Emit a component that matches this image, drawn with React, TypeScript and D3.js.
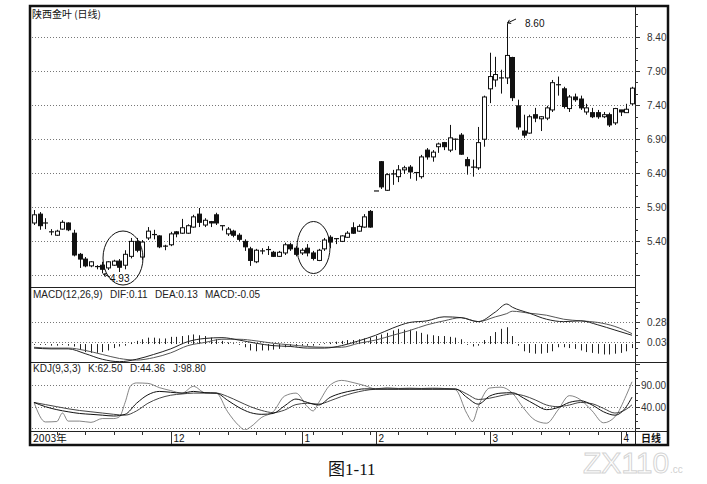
import * as d3 from "d3";

// daily candles, 陕西金叶, Nov 2003 - Apr 2004
const opens = [5.67,5.80,5.67,5.54,5.49,5.58,5.67,5.52,5.21,5.14, 5.04,5.03,5.05,5.01,5.05,5.11,5.05,5.18,5.40,5.17,
  5.45,5.50,5.48,5.33,5.35,5.54,5.52,5.52,5.61,5.80, 5.64,5.69,5.79,5.63,5.51,5.55,5.49,5.40,5.29,5.10,
  5.26,5.27,5.24,5.18,5.23,5.35,5.30,5.23,5.30,5.23, 5.12,5.29,5.46,5.44,5.40,5.46,5.60,5.55,5.61,5.84,
  6.14,6.57,6.15,6.39,6.35,6.45,6.49,6.41,6.35,6.74, 6.64,6.79,6.85,6.74,6.90,6.96,6.60,6.49,6.48,6.90,
  7.64,7.77,7.80,7.80,8.10,7.39,7.02,6.99,7.26,7.20, 7.21,7.33,7.70,7.64,7.35,7.52,7.49,7.30,7.29,7.29,
  7.23,7.26,7.14,7.33,7.29,7.42];
const closes = [5.79,5.63,5.66,5.53,5.55,5.68,5.57,5.20,5.14,5.04, 5.10,5.02,4.99,5.10,5.11,5.02,5.21,5.40,5.27,5.39,
  5.55,5.49,5.32,5.32,5.51,5.51,5.60,5.63,5.76,5.68, 5.71,5.67,5.67,5.62,5.58,5.49,5.43,5.32,5.12,5.27,
  5.25,5.28,5.18,5.24,5.35,5.29,5.21,5.27,5.23,5.15, 5.27,5.42,5.39,5.43,5.48,5.52,5.52,5.62,5.76,5.61,
  6.14,6.20,6.38,6.38,6.45,6.48,6.42,6.40,6.64,6.64, 6.71,6.83,6.79,6.92,6.90,6.68,6.51,6.49,6.85,7.52,
  7.82,7.85,7.80,8.13,7.51,7.08,6.96,7.23,7.21,7.23, 7.36,7.73,7.70,7.38,7.52,7.48,7.36,7.36,7.23,7.23,
  7.26,7.11,7.35,7.30,7.34,7.65];
const highs = [5.86,5.83,5.74,5.58,5.57,5.71,5.68,5.57,5.23,5.17, 5.11,5.05,5.10,5.11,5.13,5.14,5.27,5.45,5.45,5.42,
  5.61,5.57,5.49,5.35,5.54,5.55,5.73,5.65,5.79,5.89, 5.74,5.70,5.82,5.63,5.61,5.57,5.52,5.43,5.32,5.29,
  5.30,5.33,5.26,5.26,5.38,5.38,5.33,5.30,5.36,5.26, 5.29,5.45,5.49,5.44,5.49,5.55,5.68,5.65,5.80,5.86,
  6.14,6.58,6.40,6.45,6.52,6.51,6.52,6.42,6.67,6.77, 6.74,6.85,6.86,7.11,6.91,6.99,6.64,6.60,7.08,7.54,
  8.17,8.11,7.92,8.60,8.11,7.48,7.26,7.26,7.36,7.24, 7.39,7.77,7.82,7.67,7.55,7.57,7.54,7.42,7.36,7.33,
  7.30,7.29,7.36,7.33,7.42,7.67];
const lows = [5.64,5.57,5.58,5.49,5.48,5.57,5.55,5.18,5.01,5.02, 5.02,4.99,4.93,4.98,5.04,4.95,4.99,5.15,5.24,5.13,
  5.42,5.43,5.30,5.27,5.33,5.46,5.51,5.51,5.60,5.61, 5.61,5.61,5.64,5.56,5.48,5.46,5.40,5.26,5.04,5.08,
  5.21,5.20,5.17,5.17,5.20,5.26,5.18,5.20,5.18,5.12, 5.11,5.26,5.30,5.36,5.39,5.45,5.51,5.54,5.60,5.60,
  6.14,6.17,6.14,6.23,6.27,6.39,6.32,6.29,6.32,6.60, 6.57,6.70,6.74,6.71,6.74,6.67,6.38,6.35,6.45,6.79,
  7.43,7.67,7.57,7.71,7.46,7.04,6.92,6.98,7.15,7.02, 7.18,7.30,7.54,7.35,7.30,7.45,7.33,7.26,7.21,7.20,
  7.21,7.08,7.11,7.24,7.29,7.40];

// MACD histogram, one bar per day
const macdHist = [-0.01,-0.01,-0.01,-0.02,-0.02,-0.01,-0.02, -0.03,-0.07,-0.10,-0.11,-0.11,-0.10,-0.08,
  -0.05,-0.03,-0.02, 0.02,0.04, 0.06,0.08,0.08,0.07,0.07,0.09,0.09,0.10,0.11,0.12,0.11,0.10,0.08,
  0.06,0.04,0.02,0.01,-0.01, -0.04,-0.08,-0.09,-0.08,-0.08,-0.07,-0.06, -0.04,-0.03,-0.03,-0.02,-0.02,-0.02,-0.01,
  0.01,0.02,0.03,0.04,0.05,0.05,0.06, 0.07,0.08, 0.10, 0.12,0.14,0.17,0.19,0.18, 0.18,0.16,0.14,
  0.12,0.11,0.10,0.10,0.09,0.08, 0.06, -0.01,-0.03,-0.02, 0.05,0.10,0.15,0.19,0.21,0.10, -0.02,
  -0.09,-0.11,-0.12,-0.12,-0.11,-0.09, -0.04,-0.04,-0.05,-0.06,
  -0.08,-0.10,-0.11,-0.12,-0.13,-0.13,-0.12,-0.11,-0.09, -0.05];

// DIF / DEA read at these day indices
const macdIdx = [0,3,6,9,12,15,18,21,24,27,30,33,36,39,42,45,48,51,54,57,60,63,66,69,72,75,78,81,83,84,87,90,93,96,99,102,105];
const difVals = [-0.05,-0.06,-0.06,-0.12,-0.19,-0.22,-0.19,-0.13,-0.06,0.03,0.07,0.08,0.05,0.01,-0.02,-0.03,-0.05,-0.05,-0.02,0.04,
  0.11,0.20,0.27,0.29,0.34,0.33,0.28,0.40,0.50,0.46,0.385,0.31,0.28,0.29,0.24,0.175,0.11];
const deaVals = [-0.04,-0.05,-0.05,-0.08,-0.13,-0.18,-0.20,-0.17,-0.11,-0.02,0.02,0.06,0.06,0.04,0.01,-0.01,-0.03,-0.04,-0.04,0.01,
  0.05,0.11,0.17,0.24,0.29,0.33,0.28,0.34,0.38,0.41,0.385,0.36,0.31,0.29,0.27,0.22,0.13];

// KDJ
const kdIdx = [0,2,4,6,8,10,12,14,16,18,20,22,24,26,28,30,32,34,36,38,40,42,44,46,48,50,52,54,56,
  58,60,62,64,66,68,70,72,74,76,78,80,82,84,86,88,90,92,94,96,98,100,102,104,105];
const kVals = [50,40,33,28,24,22,20,18,22,48,68,76,74,72,76,73,72,55,38,26,22,24,42,58,50,44,62,72,78,
  82,82,82,82,82,82,82,82,82,62,46,65,72,73,60,45,33,38,50,54,44,28,20,40,62.5];
const dVals = [50,45,40,35,31,28,25,22,20,30,48,60,67,70,72,72,72,64,52,40,31,26,32,45,48,46,54,64,72,
  78,81,81,81,81,81,81,81,81,70,57,60,66,70,66,56,44,40,44,50,47,36,25,34,44.36];
const jIdx = [0,2,4,5,6,8,10,12,14,15,16,17,18,20,22,24,26,28,30,32,34,36,37,38,40,42,44,46,48,49,50,52,54,56,
  58,60,62,64,66,68,70,72,74,76,77,78,80,82,84,86,88,90,92,94,96,98,100,102,104,105];
const jVals = [50,4,5,25,6,6,3,12,12,16,50,90,96,95,85,78,72,88,73,72,28,-5,-15,-8,15,28,65,72,40,30,50,91,102,97,
  90,82,85,83,84,83,84,83,80,24,5,40,84,86,72,36,8,1,32,66,56,30,2,16,67,98.8];

const monthIdx = [24, 47, 60, 80, 103];
const monthLabels = ["12", "1", "2", "3", "4"];
const priceTicks = [8.4, 7.9, 7.4, 6.9, 6.4, 5.9, 5.4, 4.9];
const priceLabels = ["8.40", "7.90", "7.40", "6.90", "6.40", "5.90", "5.40"];
const macdTicks = [0.28, 0.03, -0.22];
const macdLabels = ["0.28", "0.03"];
const kdjTicks = [90, 40, -10];
const kdjLabels = ["90.00", "40.00"];

const SANS = "'Liberation Sans', Arial, 'Noto Sans CJK SC', sans-serif";
const CJK = "'Noto Sans CJK SC', 'Liberation Sans', sans-serif";

export default function App() {
  const L = 30, R = 668, T = 6, B = 445, AX = 635;
  const x = d3.scaleLinear().domain([0, 105]).range([34, 632]);
  const yP = d3.scaleLinear().domain([4.73, 8.856]).range([287, 6]);
  const yM = d3.scaleLinear().domain([-0.224, 0.7]).range([362, 288]);
  const yK = d3.scaleLinear().domain([-15, 145.4]).range([430, 362]);
  const cx = (i: number) => Math.round(x(i)) + 0.5;
  const px = (v: number) => Math.round(v) + 0.5;

  const seriesLine = (idx: number[], vals: number[], y: d3.ScaleLinear<number, number>) =>
    d3.line<number>()
      .x((_, k) => x(idx[k]))
      .y(v => y(v))
      .curve(d3.curveMonotoneX)(vals) ?? "";

  const dotted = { stroke: "#777", strokeWidth: 1, strokeDasharray: "1,2" };

  // right axis minor ticks (thirds between gridlines)
  const minor = (ticks: number[], step: number, lo: number, hi: number) =>
    d3.range(lo, hi + 1e-9, step / 3);

  return (
    <svg width={707} height={484} viewBox="0 0 707 484"
      style={{ position: "absolute", left: 0, top: 0, background: "#fff" }}>
      <defs>
        <clipPath id="kdjClip"><rect x={L} y={363} width={AX - L} height={67} /></clipPath>
        <clipPath id="macdClip"><rect x={L} y={288} width={AX - L} height={74} /></clipPath>
      </defs>

      {/* gridlines */}
      {priceTicks.map(t => (
        <line key={"pg" + t} x1={L + 2} x2={AX} y1={px(yP(t))} y2={px(yP(t))} {...dotted} />
      ))}
      {macdTicks.map(t => (
        <line key={"mg" + t} x1={L + 2} x2={AX} y1={px(yM(t))} y2={px(yM(t))} {...dotted} />
      ))}
      {kdjTicks.map(t => (
        <line key={"kg" + t} x1={L + 2} x2={AX} y1={px(yK(t))} y2={px(yK(t))} {...dotted} />
      ))}

      {/* candles */}
      {opens.map((o, i) => {
        const c = closes[i];
        const up = c >= o;
        const yo = yP(o), yc = yP(c);
        const top = Math.min(yo, yc);
        const h = Math.abs(yo - yc);
        const X = cx(i);
        return (
          <g key={"c" + i}>
            <line x1={X} x2={X} y1={yP(highs[i])} y2={yP(lows[i])} stroke="#111" strokeWidth={1} />
            {h < 1.2 ? (
              <line x1={X - 2.5} x2={X + 2.5} y1={top} y2={top} stroke="#111" strokeWidth={1.2} />
            ) : (
              <rect x={X - 2} y={top} width={4} height={h}
                fill={up ? "#fff" : "#111"} stroke="#111" strokeWidth={1} />
            )}
          </g>
        );
      })}

      {/* annotations */}
      <ellipse cx={123} cy={258} rx={20} ry={27} fill="none" stroke="#111" strokeWidth={1} />
      <ellipse cx={313.5} cy={247.5} rx={16.5} ry={26} fill="none" stroke="#111" strokeWidth={1} />
      <path d="M110,277 L103.5,274 M103.5,274 L107,273.5 M103.5,274 L105.5,277" fill="none" stroke="#111" strokeWidth={1} />
      <text x={110} y={282} fontSize={10} fontFamily={SANS} fill="#111">4.93</text>
      <path d="M516,19 L507.5,23 M507.5,23 L509.5,19.8 M507.5,23 L511.2,23.4" fill="none" stroke="#111" strokeWidth={1} />
      <text x={525} y={27} fontSize={10} fontFamily={SANS} fill="#111">8.60</text>

      {/* MACD */}
      <g clipPath="url(#macdClip)">
        {macdHist.map((v, i) => (
          <line key={"h" + i} x1={cx(i)} x2={cx(i)} y1={yM(0)} y2={yM(v)} stroke="#222" strokeWidth={1} />
        ))}
        <path d={seriesLine(macdIdx, deaVals, yM)} fill="none" stroke="#555" strokeWidth={1} />
        <path d={seriesLine(macdIdx, difVals, yM)} fill="none" stroke="#222" strokeWidth={1} />
      </g>

      {/* KDJ */}
      <g clipPath="url(#kdjClip)">
        <path d={seriesLine(jIdx, jVals, yK)} fill="none" stroke="#666" strokeWidth={0.8} />
        <path d={seriesLine(kdIdx, dVals, yK)} fill="none" stroke="#444" strokeWidth={1} />
        <path d={seriesLine(kdIdx, kVals, yK)} fill="none" stroke="#111" strokeWidth={1} />
      </g>

      {/* panel separators */}
      <line x1={L} x2={AX} y1={287.5} y2={287.5} stroke="#222" strokeWidth={1} />
      <line x1={L} x2={R} y1={362.5} y2={362.5} stroke="#222" strokeWidth={1} />
      <line x1={L} x2={R} y1={431.5} y2={431.5} stroke="#222" strokeWidth={1.2} />
      <line x1={AX + 0.5} x2={AX + 0.5} y1={T} y2={B} stroke="#222" strokeWidth={1} />

      {/* right axis ticks and labels */}
      {minor(priceTicks, 0.5, 4.9, 8.84).map((t, k) => (
        <line key={"pt" + k} x1={AX} x2={AX + (k % 3 === 0 ? 5 : 3)} y1={px(yP(t))} y2={px(yP(t))} stroke="#333" />
      ))}
      {priceLabels.map((s, k) => (
        <text key={"pl" + s} x={647} y={yP(priceTicks[k]) + 4} fontSize={10} fontFamily={SANS} fill="#333">{s}</text>
      ))}
      {minor(macdTicks, 0.25, -0.22, 0.69).map((t, k) => (
        <line key={"mt" + k} x1={AX} x2={AX + (k % 3 === 0 ? 5 : 3)} y1={px(yM(t))} y2={px(yM(t))} stroke="#333" />
      ))}
      {macdLabels.map((s, k) => (
        <text key={"ml" + s} x={647} y={yM(macdTicks[k]) + 4} fontSize={10} fontFamily={SANS} fill="#333">{s}</text>
      ))}
      {minor(kdjTicks, 50, -10, 140).map((t, k) => (
        <line key={"kt" + k} x1={AX} x2={AX + (k % 3 === 0 ? 5 : 3)} y1={px(yK(t))} y2={px(yK(t))} stroke="#333" />
      ))}
      {kdjLabels.map((s, k) => (
        <text key={"kl" + s} x={641} y={yK(kdjTicks[k]) + 4} fontSize={10} fontFamily={SANS} fill="#333">{s}</text>
      ))}

      {/* date row */}
      {d3.range(4, 106, 5).map(i => (
        <line key={"wt" + i} x1={cx(i)} x2={cx(i)} y1={431} y2={435} stroke="#333" />
      ))}
      {monthIdx.map((i, k) => (
        <g key={"mo" + k}>
          <line x1={cx(i)} x2={cx(i)} y1={431} y2={B} stroke="#333" />
          <text x={cx(i) + 2} y={442} fontSize={10} fontFamily={SANS} fill="#111">{monthLabels[k]}</text>
        </g>
      ))}
      <text x={33} y={442} fontSize={10.5} fontFamily={CJK} fill="#111">2003年</text>
      <text x={641} y={442} fontSize={10} fontWeight="bold" fontFamily={CJK} fill="#111">日线</text>

      {/* titles */}
      <text x={32} y={18} fontSize={10} fontFamily={CJK} fill="#111">陕西金叶 (日线)</text>
      <g fontSize={10} fontFamily={SANS} fill="#222">
        <text x={33} y={298}>MACD(12,26,9)</text>
        <text x={110} y={298}>DIF:0.11</text>
        <text x={155} y={298}>DEA:0.13</text>
        <text x={205} y={298}>MACD:-0.05</text>
        <text x={33} y={372}>KDJ(9,3,3)</text>
        <text x={88} y={372}>K:62.50</text>
        <text x={130} y={372}>D:44.36</text>
        <text x={173} y={372}>J:98.80</text>
      </g>

      {/* frame */}
      <rect x={L} y={T} width={R - L} height={B - T} fill="none" stroke="#111" strokeWidth={2.5} />

      {/* caption and watermark */}
      <text x={328} y={475} fontSize={17} fontFamily="'Liberation Serif', 'Noto Sans CJK SC', serif" fill="#111">图1-11</text>
      <text x={583} y={473} fontSize={30} fontFamily={SANS} fill="none" stroke="#d4d4d4" strokeWidth={1}>ZX110</text>
      <text x={670} y={473} fontSize={10} fontFamily={SANS} fill="#d0d0d0">.cc</text>
    </svg>
  );
}
